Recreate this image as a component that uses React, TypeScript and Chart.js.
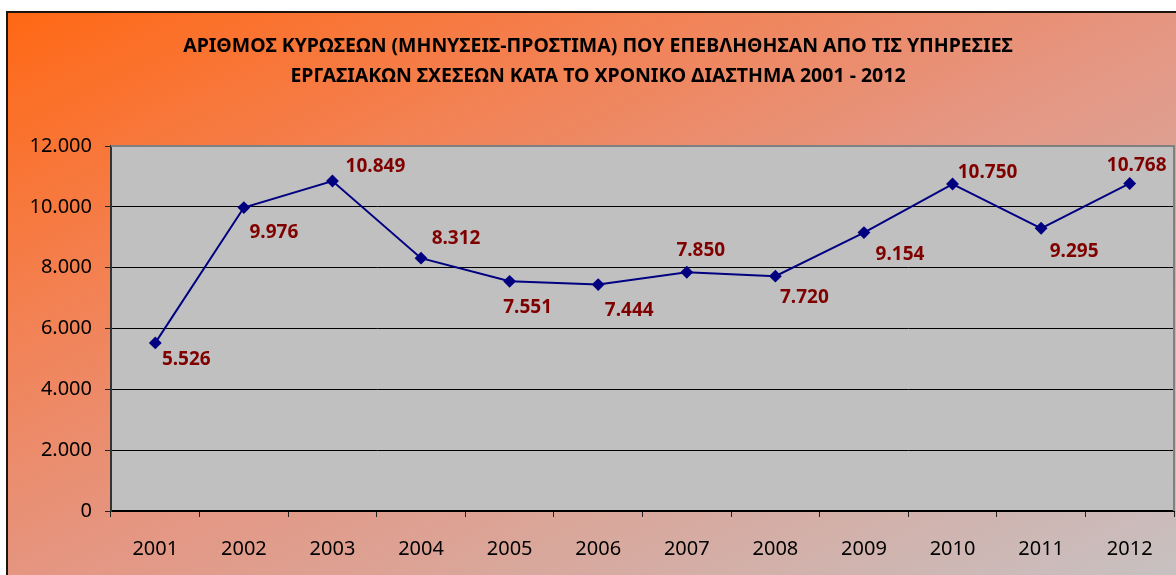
import React, { useEffect, useRef } from "react";
import { Chart, registerables } from "chart.js";

Chart.register(...registerables);

const years = ["2001", "2002", "2003", "2004", "2005", "2006", "2007", "2008", "2009", "2010", "2011", "2012"];
const sanctions = [5526, 9976, 10849, 8312, 7551, 7444, 7850, 7720, 9154, 10750, 9295, 10768];
// label offsets (dx, dy) relative to each point, in px
const labelDx = [31, 30, 43, 35, 18, 31, 14, 29, 36, 35, 33, 7];
const labelDy = [17, 25, -14, -20, 26, 26, -22, 21, 22, -11, 23, -18];
const titleLines = [
  "ΑΡΙΘΜΟΣ ΚΥΡΩΣΕΩΝ (ΜΗΝΥΣΕΙΣ-ΠΡΟΣΤΙΜΑ) ΠΟΥ ΕΠΕΒΛΗΘΗΣΑΝ ΑΠΟ ΤΙΣ ΥΠΗΡΕΣΙΕΣ",
  "ΕΡΓΑΣΙΑΚΩΝ ΣΧΕΣΕΩΝ ΚΑΤΑ ΤΟ ΧΡΟΝΙΚΟ ΔΙΑΣΤΗΜΑ 2001 - 2012",
];

const FONT = "'Noto Sans', 'DejaVu Sans', sans-serif";

function fmt(v: number): string {
  return String(Math.round(v)).replace(/\B(?=(\d{3})+(?!\d))/g, ".");
}

const backgroundPlugin = {
  id: "bgPlugin",
  beforeDraw(chart: any) {
    const ctx = chart.ctx as CanvasRenderingContext2D;
    const W = chart.width, H = chart.height;
    ctx.save();
    ctx.fillStyle = "#ffffff";
    ctx.fillRect(0, 0, W, H);
    const bx = 7, by = 12, bw = 1183, bh = 578;
    const k = 2 / (1 / (bw * bw) + 1 / (bh * bh));
    const g = ctx.createLinearGradient(bx, by, bx + k / bw, by + k / bh);
    g.addColorStop(0, "rgb(255,104,20)");
    g.addColorStop(0.25, "rgb(244,127,78)");
    g.addColorStop(0.5, "rgb(229,150,130)");
    g.addColorStop(1, "rgb(198,194,196)");
    ctx.fillStyle = g;
    ctx.fillRect(bx, by, bw, bh);
    ctx.strokeStyle = "#1e140f";
    ctx.lineWidth = 2;
    ctx.beginPath();
    ctx.moveTo(bx, H + 5);
    ctx.lineTo(bx, by);
    ctx.lineTo(W + 5, by);
    ctx.stroke();
    // title
    ctx.fillStyle = "#000000";
    ctx.font = `bold 19.5px ${FONT}`;
    ctx.textAlign = "center";
    ctx.textBaseline = "middle";
    ctx.fillText(titleLines[0], 598, 46, 840);
    ctx.fillText(titleLines[1], 598, 76, 840);
    // plot area
    const a = chart.chartArea;
    ctx.fillStyle = "#c0c0c0";
    ctx.fillRect(a.left, a.top, a.right - a.left, a.bottom - a.top);
    ctx.restore();
  },
  beforeDatasetsDraw(chart: any) {
    const ctx = chart.ctx as CanvasRenderingContext2D;
    const a = chart.chartArea;
    ctx.save();
    ctx.strokeStyle = "#808080";
    ctx.lineWidth = 2;
    ctx.beginPath();
    ctx.moveTo(a.left, a.top);
    ctx.lineTo(a.right, a.top);
    ctx.lineTo(a.right, a.bottom);
    ctx.stroke();
    ctx.restore();
  },
  afterDatasetsDraw(chart: any) {
    const ctx = chart.ctx as CanvasRenderingContext2D;
    const meta = chart.getDatasetMeta(0);
    ctx.save();
    ctx.fillStyle = "#800000";
    ctx.font = `bold 19px ${FONT}`;
    ctx.textAlign = "center";
    ctx.textBaseline = "middle";
    meta.data.forEach((pt: any, i: number) => {
      ctx.fillText(fmt(sanctions[i]), pt.x + labelDx[i], pt.y + labelDy[i]);
    });
    ctx.restore();
  },
};

export default function App() {
  const ref = useRef<HTMLCanvasElement | null>(null);
  useEffect(() => {
    if (!ref.current) return;
    const chart = new Chart(ref.current, {
      type: "line",
      data: {
        labels: years,
        datasets: [
          {
            data: sanctions,
            borderColor: "#000080",
            backgroundColor: "#000080",
            borderWidth: 2,
            pointStyle: "rectRot",
            pointRadius: 5,
            pointHoverRadius: 5,
            pointBackgroundColor: "#000080",
            pointBorderColor: "#000080",
            tension: 0,
          },
        ],
      },
      options: {
        responsive: false,
        animation: false,
        devicePixelRatio: 1,
        layout: { autoPadding: false, padding: { left: 0, top: 146, right: 2, bottom: 0 } },
        plugins: { legend: { display: false }, tooltip: { enabled: false }, title: { display: false } },
        scales: {
          x: {
            offset: true,
            grid: {
              offset: true,
              drawOnChartArea: false,
              drawTicks: true,
              tickLength: 6,
              color: "#222222",
            },
            border: { display: true, color: "#000000", width: 2 },
            ticks: { color: "#000000", font: { family: FONT, size: 20 }, padding: 20, maxRotation: 0 },
            afterFit(scale: any) {
              scale.height = 64;
              scale.paddingLeft = 0;
              scale.paddingRight = 0;
            },
          },
          y: {
            min: 0,
            max: 12000,
            grid: {
              color: (c: any) => (c.tick && c.tick.value === 12000 ? "rgba(0,0,0,0)" : "#000000"),
              tickColor: "#222222",
              lineWidth: 1,
              tickLength: 6,
            },
            border: { display: true, color: "#333333", width: 2 },
            ticks: {
              stepSize: 2000,
              color: "#000000",
              font: { family: FONT, size: 20 },
              padding: 13,
              callback: (v: any) => fmt(Number(v)),
            },
            afterFit(scale: any) {
              scale.width = 111;
              scale.paddingTop = 0;
              scale.paddingBottom = 0;
            },
          },
        },
      },
      plugins: [backgroundPlugin],
    });
    return () => chart.destroy();
  }, []);
  return (
    <div style={{ position: "absolute", left: 0, top: 0, width: 1176, height: 575 }}>
      <canvas ref={ref} width={1176} height={575} style={{ display: "block" }} />
    </div>
  );
}
